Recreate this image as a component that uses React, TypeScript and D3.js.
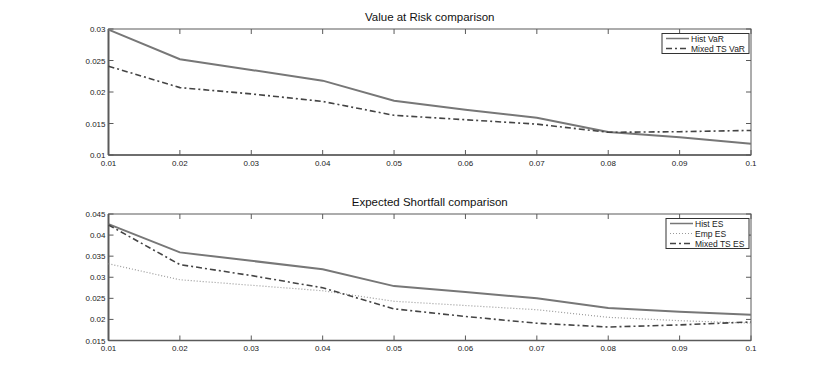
import React from "react";
import * as d3 from "d3";

const alphas = [0.01, 0.02, 0.03, 0.04, 0.05, 0.06, 0.07, 0.08, 0.09, 0.1];
const histVaR = [0.0299, 0.0252, 0.0235, 0.0218, 0.0186, 0.0172, 0.0159, 0.01365, 0.0128, 0.0118];
const mixedVaR = [0.0241, 0.0207, 0.0197, 0.0185, 0.0163, 0.0156, 0.0149, 0.0136, 0.0137, 0.0139];
const histES = [0.0426, 0.0359, 0.0339, 0.0319, 0.0279, 0.0265, 0.025, 0.0227, 0.0218, 0.0211];
const empES = [0.0332, 0.0294, 0.0281, 0.0268, 0.0243, 0.0233, 0.0223, 0.0205, 0.0197, 0.0191];
const mixedES = [0.0424, 0.033, 0.0304, 0.0275, 0.0225, 0.0207, 0.0191, 0.0182, 0.0187, 0.0194];
const xTicks = [0.01, 0.02, 0.03, 0.04, 0.05, 0.06, 0.07, 0.08, 0.09, 0.1];
const xTickLabels = ["0.01", "0.02", "0.03", "0.04", "0.05", "0.06", "0.07", "0.08", "0.09", "0.1"];
const varTicks = [0.01, 0.015, 0.02, 0.025, 0.03];
const varTickLabels = ["0.01", "0.015", "0.02", "0.025", "0.03"];
const esTicks = [0.015, 0.02, 0.025, 0.03, 0.035, 0.04, 0.045];
const esTickLabels = ["0.015", "0.02", "0.025", "0.03", "0.035", "0.04", "0.045"];

const FONT = "Liberation Sans, Arial, Helvetica, sans-serif";
const AXIS = "#5a5a5a";

type Series = { name: string; values: number[]; dash: string; color: string; width: number };

function Panel({ top, bottom, title, domain, yTicks, yTickLabels, series, legendW }: {
  top: number; bottom: number; title: string; domain: [number, number];
  yTicks: number[]; yTickLabels: string[]; series: Series[]; legendW: number;
}) {
  const left = 108.5, right = 751;
  const x = d3.scaleLinear().domain([0.01, 0.1]).range([left, right]);
  const y = d3.scaleLinear().domain(domain).range([bottom, top]);
  const line = (vals: number[]) =>
    d3.line<number>().x((_, i) => x(alphas[i])).y((d) => y(d))(vals) || "";
  const lx = right - 2 - legendW;
  const ly = top + 4.5;
  const lh = series.length * 10;
  return (
    <g>
      <text x={(left + right) / 2} y={top - 8} textAnchor="middle" fontSize={11.5} fontFamily={FONT} fill="#111">{title}</text>
      <rect x={left} y={top} width={right - left} height={bottom - top} fill="white" stroke={AXIS} strokeWidth={1} />
      {xTicks.map((t, i) => (
        <g key={"x" + i}>
          <line x1={x(t)} x2={x(t)} y1={bottom} y2={bottom - 5} stroke={AXIS} />
          <line x1={x(t)} x2={x(t)} y1={top} y2={top + 5} stroke={AXIS} />
          <text x={x(t)} y={bottom + 10.5} textAnchor="middle" fontSize={8} fontFamily={FONT} fill="#222">{xTickLabels[i]}</text>
        </g>
      ))}
      {yTicks.map((t, i) => (
        <g key={"y" + i}>
          <line x1={left} x2={left + 5} y1={y(t)} y2={y(t)} stroke={AXIS} />
          <line x1={right} x2={right - 5} y1={y(t)} y2={y(t)} stroke={AXIS} />
          <text x={left - 3} y={y(t) + 3} textAnchor="end" fontSize={8} fontFamily={FONT} fill="#222">{yTickLabels[i]}</text>
        </g>
      ))}
      <line x1={left} x2={left} y1={top} y2={bottom} stroke={AXIS} strokeWidth={2} />
      <line x1={left} x2={right} y1={bottom} y2={bottom} stroke={AXIS} strokeWidth={1.5} />
      {series.map((s, i) => (
        <path key={"s" + i} d={line(s.values)} fill="none" stroke={s.color} strokeWidth={s.width} strokeDasharray={s.dash} />
      ))}
      <rect x={lx} y={ly} width={legendW} height={lh} fill="white" stroke="#333" strokeWidth={1} />
      {series.map((s, i) => (
        <g key={"l" + i}>
          <line x1={lx + 4} x2={lx + 27} y1={ly + 5 + i * 10} y2={ly + 5 + i * 10} stroke={s.color} strokeWidth={s.width > 1.5 ? 1.5 : s.width} strokeDasharray={s.dash} />
          <text x={lx + 29} y={ly + 8 + i * 10} fontSize={8.5} fontFamily={FONT} fill="#222">{s.name}</text>
        </g>
      ))}
    </g>
  );
}

export default function App() {
  return (
    <svg width={830} height={383} style={{ position: "absolute", left: 0, top: 0, background: "white" }}>
      <Panel top={29} bottom={155} title="Value at Risk comparison" domain={[0.01, 0.03]}
        yTicks={varTicks} yTickLabels={varTickLabels} legendW={87}
        series={[
          { name: "Hist VaR", values: histVaR, dash: "", color: "#777", width: 2 },
          { name: "Mixed TS VaR", values: mixedVaR, dash: "6,3,2,3", color: "#444", width: 1.6 },
        ]} />
      <Panel top={214} bottom={340.5} title="Expected Shortfall comparison" domain={[0.015, 0.045]}
        yTicks={esTicks} yTickLabels={esTickLabels} legendW={83}
        series={[
          { name: "Hist ES", values: histES, dash: "", color: "#777", width: 2 },
          { name: "Emp ES", values: empES, dash: "1,2", color: "#999", width: 1.2 },
          { name: "Mixed TS ES", values: mixedES, dash: "6,3,2,3", color: "#444", width: 1.6 },
        ]} />
    </svg>
  );
}
